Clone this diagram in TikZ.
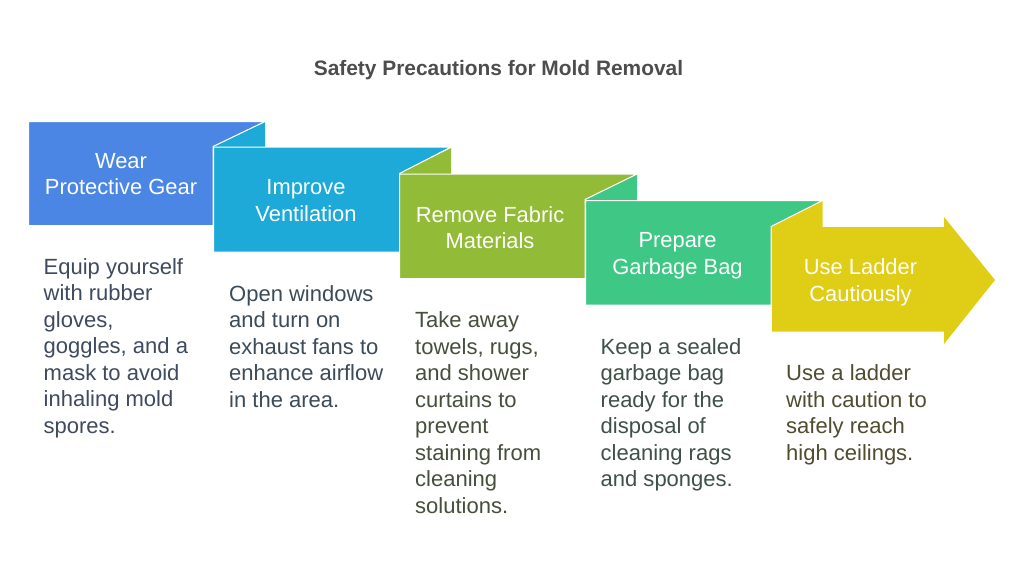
\documentclass[tikz,border=0pt]{standalone}
\usepackage{fontspec}
\setmainfont{Liberation Sans}
\definecolor{cA}{HTML}{4C86E4}
\definecolor{cB}{HTML}{1EAAD9}
\definecolor{cC}{HTML}{92BB38}
\definecolor{cD}{HTML}{3FC785}
\definecolor{cE}{HTML}{E0CD15}
\definecolor{tA}{HTML}{3F4A5E}
\definecolor{tB}{HTML}{3C4B58}
\definecolor{tC}{HTML}{464F3C}
\definecolor{tD}{HTML}{3F5048}
\definecolor{tE}{HTML}{4F4C30}
\definecolor{tT}{HTML}{4D4D4D}
\tikzset{
 x=1pt,y=-1pt,
 panel/.style={draw=white,line width=1pt,line join=miter},
 head/.style={text=white,font=\fontsize{21.9}{26.5}\selectfont,align=center,inner sep=0pt,anchor=center},
 body/.style={font=\fontsize{22}{26.5}\selectfont,align=left,inner sep=0pt,anchor=north west},
}
\begin{document}
\begin{tikzpicture}
\useasboundingbox[fill=white] (0,0) rectangle (1024,573);
\node[font=\bfseries\fontsize{20.9}{24}\selectfont,text=tT,inner sep=0pt] (title) at (498.5,70) {Safety Precautions for Mold Removal};
% tabs behind
\fill[cB] (265,122) -- (265,147) -- (213,147) -- cycle;
\fill[cC] (451,148) -- (451,174) -- (399,174) -- cycle;
\fill[cD] (637,174) -- (637,200) -- (585,200) -- cycle;
\fill[cE] (822.5,201) -- (822.5,227) -- (771,227) -- cycle;
% panels
\draw[panel,fill=cA] (28.5,121.5) -- (265,121.5) -- (213,146.5) -- (213,225.5) -- (28.5,225.5) -- cycle;
\draw[panel,fill=cB] (213.5,147) -- (451,147) -- (399.5,173.5) -- (399.5,252) -- (213.5,252) -- cycle;
\draw[panel,fill=cC] (399.5,174) -- (637,174) -- (585,199.5) -- (585,278.5) -- (399.5,278.5) -- cycle;
\draw[panel,fill=cD] (585.5,200.5) -- (822.5,200.5) -- (771,226.5) -- (771,305) -- (585.5,305) -- cycle;
\draw[panel,draw=none,fill=cE] (771.5,227) -- (944,227) -- (944,217) -- (995,280) -- (944,344) -- (944,331.5) -- (771.5,331.5) -- cycle;
\draw[white,line width=1pt] (771,227) -- (771,331.5);
% headings
\node[head] (h1) at (121,174) {Wear\\Protective Gear};
\node[head] (h2) at (306,200.5) {Improve\\Ventilation};
\node[head] (h3) at (490,227.5) {Remove Fabric\\Materials};
\node[head] (h4) at (677.5,255.5) {Prepare\\Garbage Bag};
\node[head] (h5) at (860.5,282.5) {Use Ladder\\Cautiously};
% bodies
\node[body,text=tA] (b1) at (43.5,258) {Equip yourself\\with rubber\\gloves,\\goggles, and a\\mask to avoid\\inhaling mold\\spores.};
\node[body,text=tB] (b2) at (229,285) {Open windows\\and turn on\\exhaust fans to\\enhance airflow\\in the area.};
\node[body,text=tC] (b3) at (415,311.5) {Take away\\towels, rugs,\\and shower\\curtains to\\prevent\\staining from\\cleaning\\solutions.};
\node[body,text=tD] (b4) at (600.5,338) {Keep a sealed\\garbage bag\\ready for the\\disposal of\\cleaning rags\\and sponges.};
\node[body,text=tE] (b5) at (786,364.5) {Use a ladder\\with caution to\\safely reach\\high ceilings.};
\end{tikzpicture}
\end{document}
